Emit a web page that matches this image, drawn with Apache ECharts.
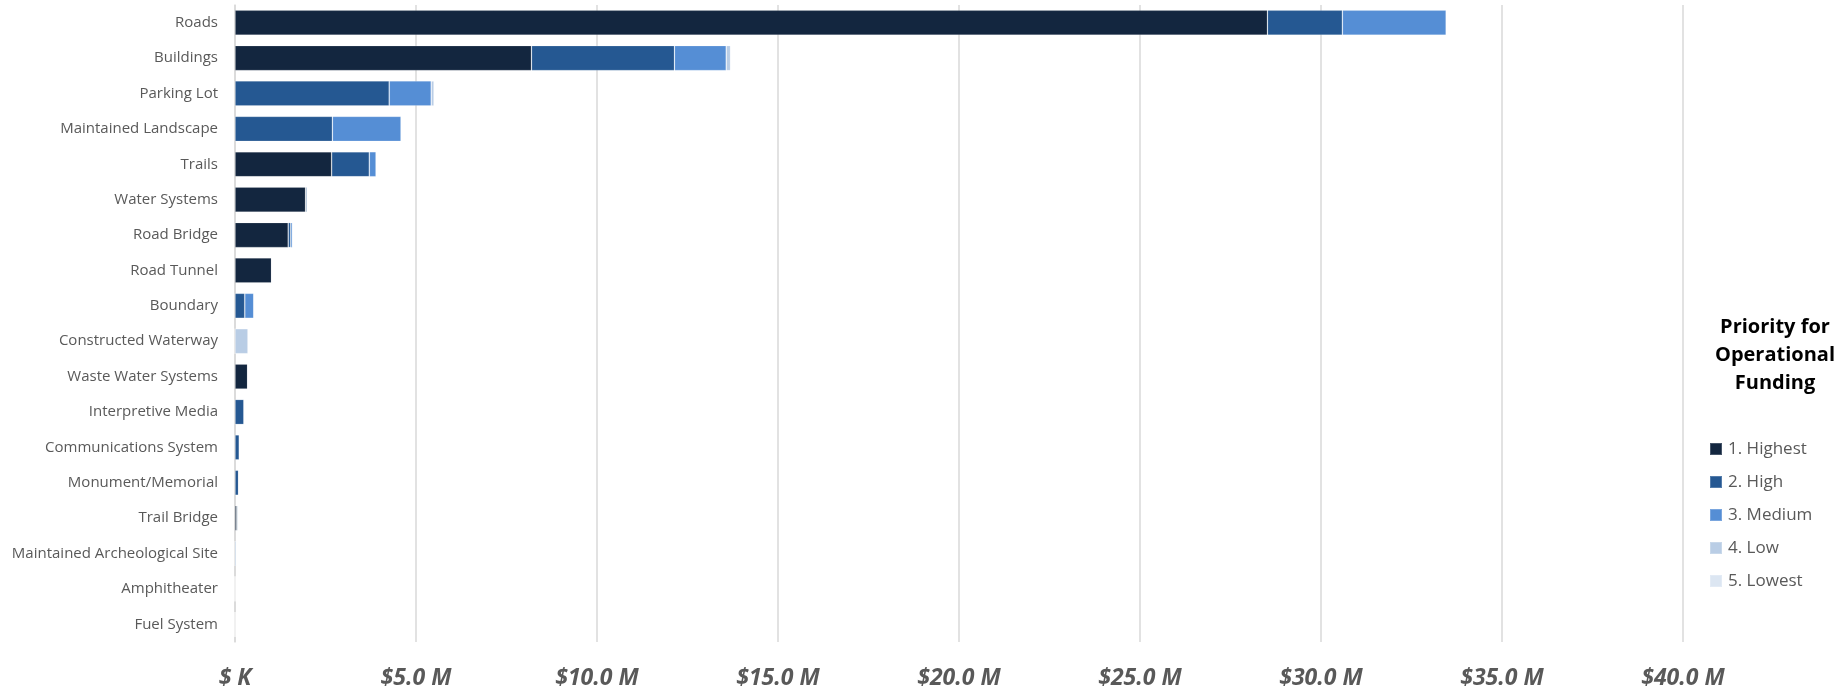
<!DOCTYPE html>
<html>
<head>
<meta charset="utf-8">
<script src="https://cdn.jsdelivr.net/npm/echarts@6/dist/echarts.min.js"></script>
<style>
html,body{margin:0;padding:0;background:#fff;}
#chart{width:1845px;height:692px;}
</style>
</head>
<body>
<div id="chart"></div>
<script>
// Values in millions of dollars
const categories = ["Roads","Buildings","Parking Lot","Maintained Landscape","Trails","Water Systems","Road Bridge","Road Tunnel","Boundary","Constructed Waterway","Waste Water Systems","Interpretive Media","Communications System","Monument/Memorial","Trail Bridge","Maintained Archeological Site","Amphitheater","Fuel System"];
const highest = [28.52, 8.19, 0, 0, 2.67, 1.95, 1.47, 1.01, 0, 0, 0.35, 0, 0, 0, 0.05, 0, 0, 0];
const high    = [2.07, 3.95, 4.26, 2.69, 1.04, 0.04, 0.07, 0, 0.27, 0, 0, 0.25, 0.12, 0.10, 0.03, 0, 0, 0];
const medium  = [2.87, 1.43, 1.16, 1.90, 0.19, 0, 0.05, 0, 0.25, 0, 0, 0, 0, 0, 0, 0, 0, 0];
const low     = [0, 0.12, 0.08, 0, 0, 0, 0, 0, 0, 0.36, 0, 0, 0, 0, 0, 0.04, 0, 0];
const lowest  = [0, 0, 0, 0, 0, 0, 0, 0, 0, 0, 0, 0, 0, 0, 0, 0, 0, 0];
const seriesNames = ["1. Highest","2. High","3. Medium","4. Low","5. Lowest"];
const seriesColors = ["#13263F","#255892","#558ED5","#B9CDE5","#DCE6F2"];
const seriesData = [highest, high, medium, low, lowest];

const chart = echarts.init(document.getElementById('chart'));
const font = "'Open Sans', 'Noto Sans', sans-serif";
chart.setOption({
  animation: false,
  textStyle: {fontFamily: font},
  title: {
    text: "Priority for\nOperational\nFunding",
    left: 1770, top: 308, textAlign: 'center',
    textStyle: {fontFamily: font, fontWeight: 'bold', fontSize: 20, lineHeight: 28, color: '#000'}
  },
  legend: {
    orient: 'vertical',
    left: 1704, top: 434,
    itemWidth: 12, itemHeight: 12, itemGap: 13,
    icon: 'rect',
    textStyle: {fontFamily: font, fontSize: 17, lineHeight: 20, color: '#595959', padding: [0,0,0,1]},
    data: seriesNames
  },
  grid: {left: 235, right: 162, top: 5, bottom: 50, containLabel: false},
  xAxis: {
    type: 'value', min: 0, max: 40, interval: 5,
    axisLine: {show: false}, axisTick: {show: false},
    splitLine: {lineStyle: {color: '#D9D9D9', width: 1.5}},
    axisLabel: {
      margin: 25,
      fontFamily: font, fontSize: 23, fontWeight: 'bold', fontStyle: 'italic', color: '#595959',
      formatter: v => v === 0 ? '$ K' : '$' + v.toFixed(1) + ' M'
    }
  },
  yAxis: {
    type: 'category', data: categories, inverse: true,
    axisLine: {show: true, lineStyle: {color: '#D9D9D9', width: 1.5}},
    axisTick: {show: false},
    axisLabel: {margin: 17, fontFamily: font, fontSize: 15, color: '#595959'}
  },
  series: seriesNames.map((n, i) => ({
    name: n, type: 'bar', stack: 'total', barWidth: 25,
    data: seriesData[i],
    itemStyle: {color: seriesColors[i], borderColor: 'rgba(255,255,255,0.22)', borderWidth: 0.8}
  }))
});
</script>
</body>
</html>
